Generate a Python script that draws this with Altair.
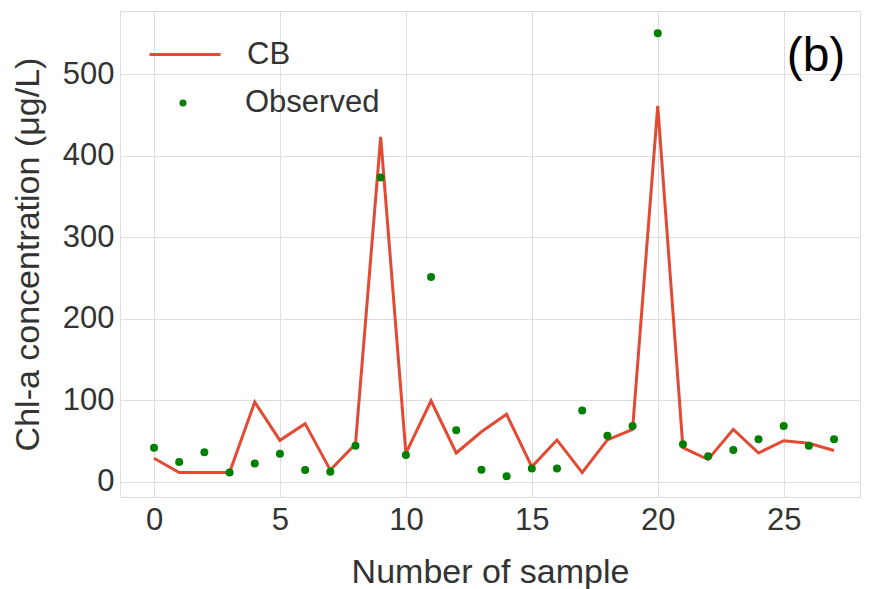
import altair as alt
import pandas as pd

samples = list(range(28))
cb_values = [28.5, 11, 11, 11, 97.5, 50.5, 71, 14, 46, 423, 34.6, 99, 35, 61,
             82.4, 18, 51, 11, 51, 64, 461, 41.5, 27, 64, 35, 50, 47, 38]
observed_values = [41.5, 24, 36, 11, 22, 34, 14, 12, 44, 373, 32.5, 251, 63, 14.5,
                   6.4, 16, 16, 87, 56, 68, 550, 45.6, 31, 38.6, 52, 68, 44, 52]
x_ticks = [0, 5, 10, 15, 20, 25]
y_ticks = [0, 100, 200, 300, 400, 500]

df = pd.DataFrame({
    "sample": samples,
    "cb": cb_values,
    "obs": observed_values,
    "line_name": ["CB"] * len(samples),
    "pt_name": ["Observed"] * len(samples),
})

FONT = "Liberation Sans"
RED = "#e24a33"
GREEN = "#008000"

xs = alt.Scale(domain=[-1.35, 28.03], nice=False, zero=False)
ys = alt.Scale(domain=[-19, 577.3], nice=False, zero=False)

x_axis = alt.Axis(values=x_ticks, title="Number of sample", grid=True, tickSize=0,
                  domain=False, labelPadding=8, labelFontSize=31, labelFlush=False,
                  titleFontSize=34, titleFontWeight="normal", titleBaseline="alphabetic",
                  titleY=85, labelColor="#333333", titleColor="#333333", titleFont=FONT, labelFont=FONT)
y_axis = alt.Axis(values=y_ticks, title="Chl-a concentration (μg/L)", grid=True, tickSize=0,
                  domain=False, labelPadding=6, labelFontSize=31, labelFlush=False,
                  titleFontSize=34, titleFontWeight="normal", titleBaseline="alphabetic",
                  titleAngle=-90, titleX=-82, titleY=243,
                  labelColor="#333333", titleColor="#333333", titleFont=FONT, labelFont=FONT)

line = alt.Chart(df).mark_line(strokeWidth=3).encode(
    x=alt.X("sample:Q", scale=xs, axis=x_axis),
    y=alt.Y("cb:Q", scale=ys, axis=y_axis),
    color=alt.Color("line_name:N", scale=alt.Scale(domain=["CB"], range=[RED]),
                    legend=alt.Legend(orient="none", legendX=28, legendY=6.5, title=None,
                                      symbolType="stroke", symbolSize=5041, symbolStrokeWidth=3,
                                      labelOffset=25, labelFontSize=31, labelFont=FONT,
                                      labelColor="#333333", padding=0)),
)

points = alt.Chart(df).mark_circle(size=64, opacity=1).encode(
    x=alt.X("sample:Q", scale=xs),
    y=alt.Y("obs:Q", scale=ys),
    fill=alt.Fill("pt_name:N", scale=alt.Scale(domain=["Observed"], range=[GREEN]),
                  legend=alt.Legend(orient="none", legendX=47.5, legendY=76.5, title=None,
                                    symbolType="circle", symbolSize=50, symbolOpacity=1,
                                    symbolStrokeWidth=0,
                                    labelOffset=46.5, labelFontSize=31, labelFont=FONT,
                                    labelColor="#333333", padding=0)),
)

label_b = alt.Chart(df).mark_text(fontSize=48, font=FONT, color="black", align="center",
                                  baseline="middle").encode(
    x=alt.value(696), y=alt.value(46), text=alt.value("(b)")
).transform_filter(alt.datum.sample == 0)

chart = alt.layer(line, points, label_b).properties(
    width=740, height=486,
    padding={"left": 112, "top": 3, "right": 1, "bottom": 92},
    autosize=alt.AutoSizeParams(type="none"),
).configure_view(
    stroke="#d0d0d0", strokeWidth=1.5
).configure_axis(
    gridColor="#e8e8e8", gridWidth=1
).configure(background="white")

chart.save("out.html", embed_options={"renderer": "svg", "actions": False})
